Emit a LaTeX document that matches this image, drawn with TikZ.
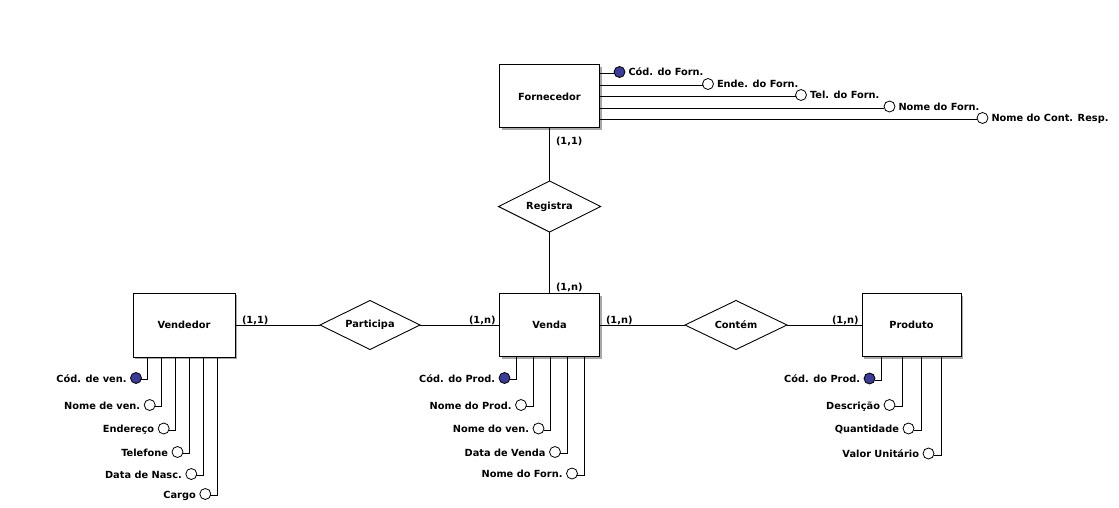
\documentclass[tikz,border=0pt]{standalone}
\usepackage{fontspec}
\setmainfont{DejaVu Sans}
\usetikzlibrary{shapes.geometric,shadows}
\definecolor{keyfill}{HTML}{3B3B98}
\definecolor{shade}{HTML}{A8A8A8}
\begin{document}
\begin{tikzpicture}[x=1pt,y=-1pt,
  every node/.style={font=\bfseries\fontsize{9.8}{11}\selectfont, inner sep=0pt, outer sep=0pt},
  entity/.style={draw, line width=1pt, fill=white, rectangle,
    drop shadow={shadow xshift=2pt, shadow yshift=-2pt, fill=shade, opacity=1}},
  rel/.style={draw, line width=0.9pt, diamond, fill=white, minimum height=49pt},
  attr/.style={draw, circle, line width=0.8pt, minimum size=11pt},
  conn/.style={line width=1pt},
]
\fill[white] (0,0) rectangle (1119,508);
\useasboundingbox (0,0) rectangle (1119,508);

% entities
\node[entity, minimum width=100pt, minimum height=63pt] (forn)  at (549.5,96.5) {Fornecedor};
\node[entity, minimum width=102pt, minimum height=64pt] (vend)  at (184,325)    {Vendedor};
\node[entity, minimum width=100pt, minimum height=63pt] (venda) at (549.5,325)  {Venda};
\node[entity, minimum width=99pt,  minimum height=63pt] (prod)  at (911.5,325)  {Produto};

% relationships
\node[rel, minimum width=102pt, minimum height=51pt, label=center:Registra] (reg)  at (549.5,206.5) {};
\node[rel, minimum width=100pt, label=center:Participa] (part) at (370,325) {};
\node[rel, minimum width=102pt, label=center:Contém]    (cont) at (736,325) {};

% relationship lines
\draw[conn] (forn) -- (reg);
\draw[conn] (reg) -- (venda);
\draw[conn] (vend) -- (part);
\draw[conn] (part) -- (venda);
\draw[conn] (venda) -- (cont);
\draw[conn] (cont) -- (prod);

% cardinalities
\node[anchor=base west] (c1) at (556,145) {(1,1)};
\node[anchor=base west] (c2) at (556,290) {(1,n)};
\node[anchor=base west] (c3) at (242,323) {(1,1)};
\node[anchor=base west] (c4) at (469,323) {(1,n)};
\node[anchor=base west] (c5) at (606,323) {(1,n)};
\node[anchor=base west] (c6) at (832,323) {(1,n)};

% Fornecedor attributes (horizontal)
\foreach \cx/\ly/\txt/\fc [count=\i] in {
  619.5/74/{Cód. do Forn.}/keyfill,
  708/86/{Ende. do Forn.}/white,
  801/97/{Tel. do Forn.}/white,
  889.5/108.5/{Nome do Forn.}/white,
  982.5/120/{Nome do Cont. Resp.}/white}{
  \node[attr, fill=\fc] (fa\i) at (\cx,{\ly-2}) {};
  \draw[conn] (forn.east |- fa\i.200) -- (fa\i.200);
  \node[anchor=base west] (fl\i) at ({\cx+9},{\ly+2}) {\txt};
}

% Vendedor attributes
\foreach \lx/\ly/\cx/\txt/\fc [count=\i] in {
  147.7/380/136/{Cód. de ven.}/keyfill,
  161.7/407/149.7/{Nome de ven.}/white,
  175.7/430.5/163.7/{Endereço}/white,
  189.3/454/177.5/{Telefone}/white,
  203.3/476/191.3/{Data de Nasc.}/white,
  217.3/496/205.3/{Cargo}/white}{
  \node[attr, fill=\fc] (va\i) at (\cx,{\ly-2}) {};
  \draw[conn] (va\i.-20) -| (\lx,0 |- vend.south);
  \node[anchor=base east] (vl\i) at ({\cx-9.5},{\ly+2}) {\txt};
}

% Venda attributes
\foreach \lx/\ly/\cx/\txt/\fc [count=\i] in {
  516.7/380/504.5/{Cód. do Prod.}/keyfill,
  533.3/407/521/{Nome do Prod.}/white,
  550.3/430.5/538.5/{Nome do ven.}/white,
  567.3/454/555/{Data de Venda}/white,
  584/475.5/572/{Nome do Forn.}/white}{
  \node[attr, fill=\fc] (da\i) at (\cx,{\ly-2}) {};
  \draw[conn] (da\i.-20) -| (\lx,0 |- venda.south);
  \node[anchor=base east] (dl\i) at ({\cx-9.5},{\ly+2}) {\txt};
}

% Produto attributes
\foreach \lx/\ly/\cx/\txt/\fc [count=\i] in {
  881.7/380.5/869.5/{Cód. do Prod.}/keyfill,
  902.3/407/889.5/{Descrição}/white,
  921.7/430.5/908.5/{Quantidade}/white,
  941.7/455.5/928.5/{Valor Unitário}/white}{
  \node[attr, fill=\fc] (pa\i) at (\cx,{\ly-2}) {};
  \draw[conn] (pa\i.-20) -| (\lx,0 |- prod.south);
  \node[anchor=base east] (pl\i) at ({\cx-9.5},{\ly+2}) {\txt};
}
\end{tikzpicture}
\end{document}
